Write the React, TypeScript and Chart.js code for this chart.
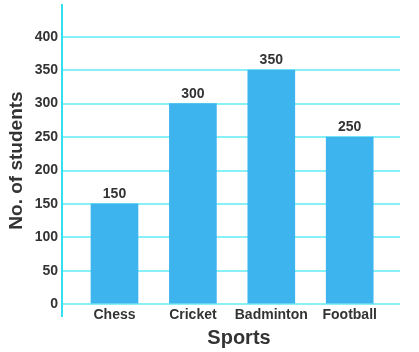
import React, { useEffect, useRef } from "react";
import { Chart, registerables } from "chart.js";

Chart.register(...registerables);

const categories = ["Chess", "Cricket", "Badminton", "Football"];
const students = [150, 300, 350, 250];
const yTicks = [0, 50, 100, 150, 200, 250, 300, 350, 400];

const FONT = '"Liberation Sans", Arial, sans-serif';
const TEXT = "#333333";

const labelPlugin = {
  id: "valueLabels",
  afterDatasetsDraw(chart: any) {
    const ctx = chart.ctx;
    ctx.save();
    ctx.fillStyle = TEXT;
    ctx.font = `bold 14px ${FONT}`;
    ctx.textAlign = "center";
    ctx.textBaseline = "alphabetic";
    const meta = chart.getDatasetMeta(0);
    meta.data.forEach((el: any, i: number) => {
      ctx.fillText(String(students[i]), el.x, el.y - 6);
    });
    ctx.restore();
  },
  afterDraw(chart: any) {
    const ctx = chart.ctx;
    const a = chart.chartArea;
    ctx.save();
    ctx.fillStyle = TEXT;
    ctx.font = `bold 20px ${FONT}`;
    ctx.textAlign = "center";
    ctx.textBaseline = "alphabetic";
    ctx.fillText("Sports", (a.left + a.right) / 2 + 8, 344);
    ctx.restore();
  },
};

export default function App() {
  const ref = useRef<HTMLCanvasElement>(null);
  useEffect(() => {
    const chart = new Chart(ref.current!, {
      type: "bar",
      data: {
        datasets: [
          {
            data: students.map((v, i) => ({ x: i, y: v })),
            backgroundColor: "#3eb4ef",
            borderWidth: 0,
            barThickness: 47,
          },
        ],
      },
      options: {
        animation: false,
        responsive: false,
        layout: { padding: { top: 5, right: 19, left: 0, bottom: 0 } },
        plugins: { legend: { display: false }, tooltip: { enabled: false } },
        scales: {
          x: {
            type: "linear",
            offset: false,
            min: -0.6696,
            max: 3.6416,
            afterBuildTicks: (axis: any) => {
              axis.ticks = categories.map((_, i) => ({ value: i }));
            },
            afterFit: (axis: any) => {
              axis.height = 36;
              axis.paddingLeft = 0;
              axis.paddingRight = 0;
            },
            grid: { display: false, drawTicks: false },
            border: { display: false },
            ticks: {
              mirror: true,
              padding: -8,
              color: TEXT,
              font: { family: FONT, size: 14, weight: "bold" },
              callback: (v: any) => categories[v],
              maxRotation: 0,
              autoSkip: false,
            },
          },
          y: {
            type: "linear",
            min: -17.5,
            max: 447.4,
            afterBuildTicks: (axis: any) => {
              axis.ticks = yTicks.map((v) => ({ value: v }));
            },
            afterFit: (axis: any) => {
              axis.width = 62;
              axis.paddingTop = 0;
              axis.paddingBottom = 0;
            },
            grid: { color: "#86f2f7", lineWidth: 2, drawTicks: false },
            border: { display: true, color: "#33e1ee", width: 2 },
            ticks: {
              padding: 4,
              color: TEXT,
              font: { family: FONT, size: 14, weight: "bold" },
            },
            title: {
              display: true,
              text: "No. of students",
              color: TEXT,
              font: { family: FONT, size: 19, weight: "bold" },
              padding: { top: 5, bottom: 0 },
            },
          },
        },
      },
      plugins: [labelPlugin],
    } as any);
    return () => chart.destroy();
  }, []);
  return (
    <div style={{ position: "absolute", left: 0, top: 0, width: 419, height: 352, background: "#fff" }}>
      <canvas ref={ref} width={419} height={352} />
    </div>
  );
}
